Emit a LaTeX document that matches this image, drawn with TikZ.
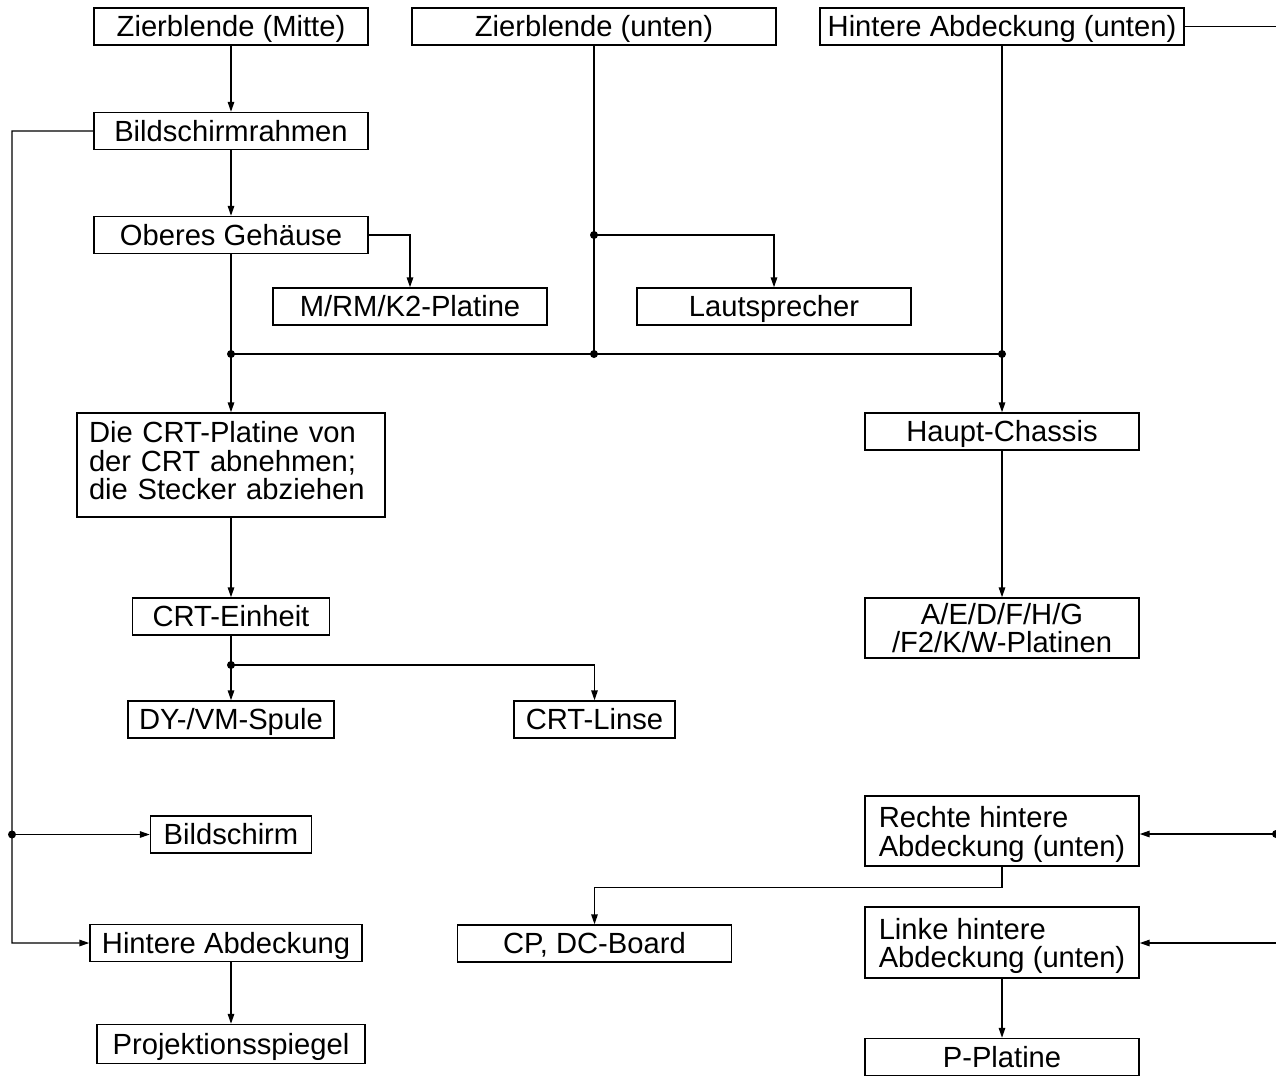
\documentclass[tikz,border=0pt]{standalone}
\usepackage{fontspec}
\setmainfont{Liberation Sans}
\usepackage{tikz}
\usetikzlibrary{arrows.meta, positioning}

\begin{document}
\begin{tikzpicture}[on grid, font=\fontsize{16.6}{16.4}\selectfont]
    \tikzstyle{box}=[shape=rectangle, draw, line width=0.8pt, inner sep=0pt, minimum width=5.48cm, minimum height=0.74cm]
    \tikzstyle{single}=[text height=15.1pt, text depth=3.5pt]
    \tikzstyle{double}=[align=left, text height=32.5pt, text depth=3.5pt]
    \tikzstyle{arr}=[draw, line width=0.8pt, -{Triangle[length=2mm,width=1.3mm]}]
    \tikzstyle{wire}=[draw, line width=0.8pt]

    \useasboundingbox (0,0) rectangle (25.52,-21.5);

    % top row
    \node[box, single] (ZM) at (4.62,-0.53) {Zierblende (Mitte)};
    \node[box, single, minimum width=7.28cm, right=7.26cm of ZM] (ZU) {Zierblende (unten)};
    \node[box, single, minimum width=7.28cm, right=8.16cm of ZU] (HAU) {Hintere Abdeckung (unten)};

    % left column
    \node[box, single, below=2.09cm of ZM] (BR) {Bildschirmrahmen};
    \node[box, single, below=2.08cm of BR] (OG) {Oberes Gehäuse};
    \node[box, single, below right=1.43cm and 3.58cm of OG] (MRM) {M/RM/K2-Platine};
    \node[box, single, right=7.28cm of MRM] (LS) {Lautsprecher};
    \node[box, below=4.60cm of OG, minimum width=6.16cm, minimum height=2.08cm,
          text width=5.68cm, align=left, text height=10.4pt, text depth=36.3pt] (CRTP)
          {Die CRT-Platine von\\der CRT abnehmen;\\die Stecker abziehen};
    \node[box, single, below=3.03cm of CRTP, minimum width=3.94cm] (CRTE) {CRT-Einheit};
    \node[box, single, below=2.06cm of CRTE, minimum width=4.12cm] (DY) {DY-/VM-Spule};
    \node[box, single, right=7.27cm of DY, minimum width=3.22cm] (LIN) {CRT-Linse};
    \node[box, single, below=2.30cm of DY, minimum width=3.22cm] (BS) {Bildschirm};
    \node[box, single, below=2.17cm of BS, xshift=-0.1cm, minimum width=5.44cm] (HA) {Hintere Abdeckung};
    \node[box, single, below=2.02cm of HA, xshift=0.1cm, minimum width=5.36cm, minimum height=0.78cm] (PS) {Projektionsspiegel};

    % right column
    \node[box, single, below=8.10cm of HAU] (HC) {Haupt-Chassis};
    \node[box, below=3.93cm of HC, minimum height=1.2cm, align=center] (AED) {A/E/D/F/H/G\\/F2/K/W-Platinen};
    \node[box, double, below=4.06cm of AED, minimum height=1.40cm] (RHA) {Rechte hintere\\Abdeckung (unten)};
    \node[box, single, below=4.48cm of LIN] (CP) {CP, DC-Board};
    \node[box, double, below=2.23cm of RHA, minimum height=1.42cm] (LHA) {Linke hintere\\Abdeckung (unten)};
    \node[box, single, below=2.29cm of LHA] (PP) {P-Platine};

    % junctions
    \coordinate (busL) at (OG |- 0,-7.08);
    \coordinate (busM) at (ZU |- 0,-7.08);
    \coordinate (busR) at (HAU |- 0,-7.08);
    \coordinate (jLS) at (ZU |- OG.east);
    \coordinate (jCRT) at (CRTE |- 0,-13.30);
    \coordinate (railT) at (0.24,-2.62);
    \coordinate (railBS) at (railT |- BS.west);
    \coordinate (edgeT) at (25.52,-0.53);
    \coordinate (edgeR) at (25.52,-16.68);
    \coordinate (edgeL) at (25.52,-18.86);

    \path[every edge/.append style={arr}]
    (ZM) edge (BR)
    (BR) edge (OG)
    (OG) edge (CRTP)
    (HAU) edge (HC)
    (CRTP) edge (CRTE)
    (HC) edge (AED)
    (jCRT) edge (DY)
    (LHA) edge (PP)
    (railBS) edge (BS)
    ;
    \draw[wire] (busL) -- (busR);
    \draw[wire] (ZU.south) -- (busM);
    \draw[wire] (CRTE.south) -- (jCRT);
    \draw[wire] (HAU.east) -- (edgeT);
    \draw[arr] (OG.east) -| (MRM.north);
    \draw[arr] (jLS) -| (LS.north);
    \draw[arr] (jCRT) -| (LIN.north);
    \draw[arr] (BR.west) -- (railT) |- (HA.west);
    \draw[arr] (edgeR) -- (edgeR -| RHA.east);
    \draw[arr] (edgeL) -- (edgeL -| LHA.east);
    \draw[arr] (RHA.south) -- ++(0,-0.42) -| (CP.north);
    \draw[arr] (HA.south -| PS) -- (PS.north);

    \foreach \j in {busL, busM, busR, jLS, jCRT, railBS, edgeR}
        \fill (\j) circle (0.08cm);
\end{tikzpicture}
\end{document}
